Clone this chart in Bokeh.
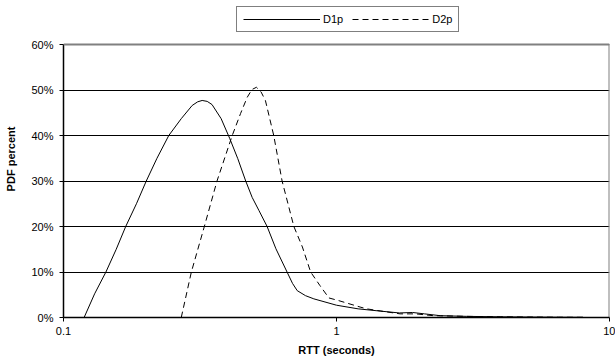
from bokeh.plotting import figure
from bokeh.models import (Legend, LegendItem, FixedTicker, NumeralTickFormatter, Range1d, Span)
from bokeh.embed import file_html
from bokeh.resources import INLINE

# ---- data (RTT in seconds, PDF in percent) ----
d1p_x = [0.119, 0.13, 0.143, 0.156, 0.169, 0.185, 0.201, 0.22, 0.243, 0.27, 0.296,
         0.31, 0.322, 0.336, 0.35, 0.378, 0.406, 0.435, 0.465, 0.491, 0.52, 0.557, 0.6, 0.659,
         0.69, 0.718, 0.77, 0.826, 1.0, 1.2, 1.45, 1.7, 1.9, 2.1, 2.4, 3.0, 4.0, 5.0, 6.5, 8.0]
d1p_y = [0.0, 5.2, 10.0, 15.0, 20.0, 25.0, 30.0, 35.0, 40.0, 43.7, 46.6,
         47.4, 47.7, 47.5, 46.8, 43.7, 39.4, 34.9, 30.0, 26.4, 23.5, 20.0, 15.1, 10.0,
         7.5, 5.9, 4.8, 4.1, 2.7, 1.9, 1.4, 1.0, 1.1, 0.8, 0.4, 0.25, 0.15, 0.1, 0.06, 0.04]

d2p_x = [0.27, 0.294, 0.328, 0.365, 0.415, 0.445, 0.471, 0.49, 0.509, 0.529, 0.549, 0.589, 0.632,
         0.698, 0.75, 0.804, 0.87, 0.938, 1.02, 1.22, 1.29, 1.5, 1.71, 1.95, 2.26,
         3.0, 4.0, 5.0, 6.5, 8.0]
d2p_y = [0.0, 10.0, 20.0, 30.0, 40.0, 44.8, 48.4, 50.1, 50.6, 49.6, 47.7, 40.0, 30.0,
         20.0, 15.5, 10.0, 7.0, 4.3, 3.7, 2.3, 1.9, 1.3, 0.8, 0.8, 0.4,
         0.25, 0.15, 0.1, 0.06, 0.04]

series_names = ["D1p", "D2p"]
x_ticks = [0.1, 1, 10]
x_tick_labels = ["0.1", "1", "10"]
y_ticks = [0.0, 0.1, 0.2, 0.3, 0.4, 0.5, 0.6]

FONT = "Liberation Sans"
GREY = "#808080"

# the frame reaches the top of the canvas so the legend (above the 60% line) is not clipped
FRAME_H = 317          # px from canvas top to the 0% line
PLOT_H = 273           # px from 0% to 60%
y_top = y_ticks[-1] * FRAME_H / PLOT_H

p = figure(width=615, height=364, x_axis_type="log", output_backend="svg",
           toolbar_location=None, x_range=Range1d(x_ticks[0], x_ticks[-1]),
           y_range=Range1d(y_ticks[0], y_top),
           min_border_left=63, min_border_right=6, min_border_top=0, min_border_bottom=47)

p.background_fill_color = "white"
p.border_fill_color = "white"
p.outline_line_color = None

r1 = p.line(d1p_x, [y / 100 for y in d1p_y], line_color="black", line_width=1)
r2 = p.line(d2p_x, [y / 100 for y in d2p_y], line_color="black", line_width=1,
            line_dash="6 4")

# plot-area border (grey) on the top and right
p.add_layout(Span(location=y_ticks[-1], dimension="width", line_color=GREY, line_width=2))
p.segment(x0=[x_ticks[-1]], y0=[y_ticks[0]], x1=[x_ticks[-1]], y1=[y_ticks[-1]],
          line_color=GREY, line_width=2)

# axes
xa = p.xaxis[0]
xa.ticker = FixedTicker(ticks=x_ticks, minor_ticks=[])
xa.major_label_overrides = {t: l for t, l in zip(x_ticks, x_tick_labels)}
xa.axis_label = "RTT (seconds)"
ya = p.yaxis[0]
ya.ticker = FixedTicker(ticks=y_ticks, minor_ticks=[])
ya.formatter = NumeralTickFormatter(format="0%")
ya.axis_label = "PDF percent"
ya.bounds = (y_ticks[0], y_ticks[-1])

for ax in (xa, ya):
    ax.axis_line_color = "black"
    ax.axis_line_width = 1.5
    ax.major_tick_line_color = "black"
    ax.major_tick_in = 0
    ax.major_tick_out = 4
    ax.minor_tick_line_color = None
    ax.major_label_text_font = FONT
    ax.major_label_text_font_size = "11px"
    ax.major_label_text_color = "black"
    ax.axis_label_text_font = FONT
    ax.axis_label_text_font_size = "11px"
    ax.axis_label_text_font_style = "bold"
    ax.axis_label_text_color = "black"
ya.major_label_standoff = 6
ya.axis_label_standoff = 11
xa.major_label_standoff = 5
xa.axis_label_standoff = 6

p.xgrid.grid_line_color = None
p.ygrid.grid_line_color = "black"
p.ygrid.grid_line_width = 1

legend = Legend(items=[LegendItem(label=series_names[0], renderers=[r1]),
                       LegendItem(label=series_names[1], renderers=[r2])],
                orientation="horizontal", location=(173, 285),
                glyph_width=77, glyph_height=12, label_height=12,
                label_standoff=3, spacing=9, padding=6, margin=0,
                border_line_color="black", border_line_width=1,
                background_fill_color="white", background_fill_alpha=1,
                label_text_font=FONT, label_text_font_size="11px",
                label_text_color="black")
p.add_layout(legend, "center")

open("out.html", "w").write(file_html(p, INLINE))
